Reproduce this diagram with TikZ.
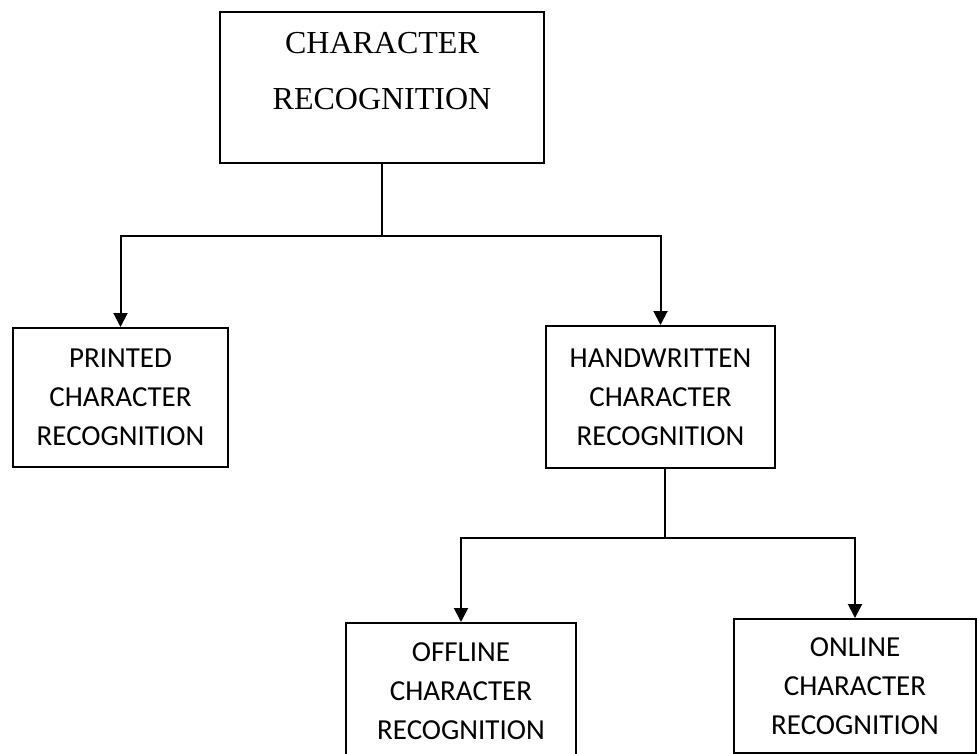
\documentclass[tikz,border=0pt]{standalone}
\usepackage{fontspec}
\newfontfamily\titlefont{Liberation Serif}
\newfontfamily\boxfont{Carlito}
\usetikzlibrary{arrows.meta}
\begin{document}
\begin{tikzpicture}[x=1pt,y=-1pt,
  box/.style={draw,line width=2pt,rectangle,inner sep=0pt},
  sublabel/.style={align=center,font=\boxfont\fontsize{29}{39}\selectfont},
  link/.style={line width=2pt},
  arrow/.style={line width=2pt,-{Triangle[length=14pt,width=14pt]}}]
\useasboundingbox (0,0) rectangle (977,754);
\clip (0,0) rectangle (977,754);

% root box, text sits in its upper part
\node[box,minimum width=324pt,minimum height=151pt] (root) at (382,87.5) {};
\node[align=center,font=\titlefont\fontsize{32}{56}\selectfont] (rootlabel) at (382,71) {CHARACTER\\RECOGNITION};

% second level
\node[box,minimum width=215pt,minimum height=139pt,sublabel] (printed) at (120.5,397.5) {PRINTED\\CHARACTER\\RECOGNITION};
\node[box,minimum width=229pt,minimum height=142pt,sublabel] (hand) at (660.5,397) {HANDWRITTEN\\CHARACTER\\RECOGNITION};

% third level
\node[box,minimum width=230pt,minimum height=137pt,sublabel] (offline) at (461,691.5) {OFFLINE\\CHARACTER\\RECOGNITION};
\node[box,minimum width=242pt,minimum height=134pt,sublabel] (online) at (855,686) {ONLINE\\CHARACTER\\RECOGNITION};

% connectors
\coordinate (j1) at (382,236);
\coordinate (j2) at (665,538);
\draw[link] (root.south) -- (j1);
\draw[arrow] (j1) -| (printed.north);
\draw[arrow] (j1) -| (hand.north);
\draw[link] (hand.south -| j2) -- (j2);
\draw[arrow] (j2) -| (offline.north);
\draw[arrow] (j2) -| (online.north);
\end{tikzpicture}
\end{document}
